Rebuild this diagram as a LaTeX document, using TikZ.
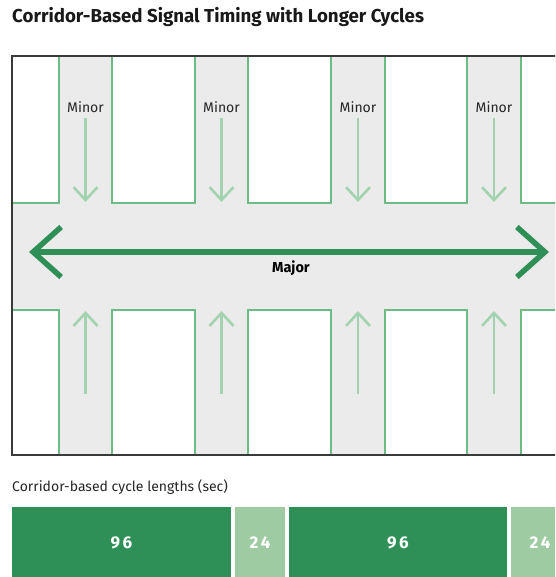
\documentclass[tikz,border=0pt]{standalone}
\usepackage{fontspec}
\setmainfont{Fira Sans}
\usetikzlibrary{arrows.meta}
\definecolor{roadgrey}{HTML}{EBEBEB}
\definecolor{frameline}{HTML}{3A3A3A}
\definecolor{lotline}{HTML}{6DBB85}
\definecolor{minorgreen}{HTML}{A3D3AE}
\definecolor{majorgreen}{HTML}{2E8F57}
\definecolor{barlight}{HTML}{9FCBA2}
\tikzset{
  lot/.style={fill=white, draw=lotline, line width=1.4pt},
  minorflow/.style={draw=minorgreen, line width=2.6pt, -{Straight Barb[length=13pt,width=24pt]}},
  majorflow/.style={draw=majorgreen, line width=5.5pt, {Straight Barb[length=28pt,width=50pt]}-{Straight Barb[length=28pt,width=50pt]}},
  minorlabel/.style={font=\fontsize{14}{16}\selectfont, text=black!85, inner sep=0pt},
  majorlabel/.style={font=\fontsize{14.5}{16}\selectfont\bfseries, text=black, inner sep=0pt},
  barnum/.style={font=\fontsize{17}{19}\selectfont\bfseries, text=white, inner sep=0pt},
  darkbar/.style={fill=majorgreen, draw=none},
  lightbar/.style={fill=barlight, draw=none}
}
\begin{document}
\begin{tikzpicture}[x=1pt,y=-1pt]
\useasboundingbox (0,0) rectangle (555,577);
\clip (0,0) rectangle (555,577);
\fill[white] (0,0) rectangle (555,577);

% title
\node[anchor=west, inner sep=0pt, font=\fontsize{18.7}{21}\selectfont\bfseries, text=black!90] (title) at (12,17) {Corridor-Based Signal Timing with Longer Cycles};

% street grid: grey pavement with white blocks, cut to the map frame
\begin{scope}
  \clip (12,56) rectangle (570,455);
  \fill[roadgrey] (12,56) rectangle (570,455);
  \foreach \a/\b in {5/59, 112/195, 248/331, 385/467, 521/580}{
    \draw[lot] (\a,48) rectangle (\b,203);
    \draw[lot] (\a,310) rectangle (\b,465);
  }
\end{scope}
\draw[frameline, line width=1.5pt] (12,56) -- (570,56);
\draw[frameline, line width=1.5pt] (12,455) -- (570,455);
\draw[frameline, line width=1.5pt] (12,55.25) -- (12,455.75);

% minor (cross street) flows
\foreach \c/\n in {85.5/1, 221.5/2, 358/3, 494/4}{
  \node[minorlabel] (minor\n) at (\c,107) {Minor};
  \coordinate (dtop\n) at (\c,118);
  \coordinate (dbot\n) at (\c,202);
  \coordinate (ubot\n) at (\c,394);
  \coordinate (utop\n) at (\c,311);
  \draw[minorflow] (dtop\n) -- (dbot\n);
  \draw[minorflow] (ubot\n) -- (utop\n);
}

% major corridor flow
\coordinate (mleft) at (29,252);
\coordinate (mright) at (549,252);
\draw[majorflow] (mleft) -- (mright);
\node[majorlabel] (major) at (291,268) {Major};

% cycle length bar
\node[anchor=west, inner sep=0pt, font=\fontsize{14}{16}\selectfont, text=black!85] (barcap) at (12,487) {Corridor-based cycle lengths (sec)};
\fill[darkbar] (12,507) rectangle (231,590);
\fill[lightbar] (235,507) rectangle (285,590);
\fill[darkbar] (289,507) rectangle (507,590);
\fill[lightbar] (511,507) rectangle (580,590);
\node[barnum] (b1) at (121.5,543) {9\hspace{2.5pt}6};
\node[barnum] (b2) at (260,543) {2\hspace{2.5pt}4};
\node[barnum] (b3) at (398,543) {9\hspace{2.5pt}6};
\node[barnum] (b4) at (540,543) {2\hspace{2.5pt}4};
\end{tikzpicture}
\end{document}
